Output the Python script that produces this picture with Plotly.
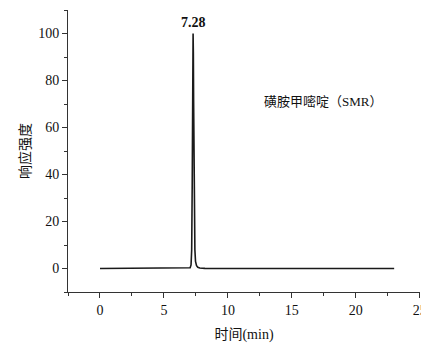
import plotly.graph_objects as go

# Chromatogram trace: retention time (min) and relative response
time_min = [0.0, 6.9, 7.05, 7.12, 7.17, 7.21, 7.24, 7.26, 7.28, 7.30, 7.32, 7.35, 7.38,
            7.42, 7.47, 7.55, 7.65, 7.8, 8.2, 9.0, 23.0]
response = [0.0, 0.0, 0.3, 1.5, 8.0, 35.0, 70.0, 92.0, 100.0, 92.0, 72.0, 42.0, 20.0,
            8.0, 3.0, 1.2, 0.5, 0.2, 0.05, 0.0, 0.0]

peak_time = 7.28
peak_height = 100.0
compound_label = "磺胺甲嘧啶（SMR）"

x_ticks = [0, 5, 10, 15, 20, 25]
y_ticks = [0, 20, 40, 60, 80, 100]

font_family = "Liberation Serif, Times New Roman, Noto Sans CJK SC, serif"
axis_color = "#333333"

fig = go.Figure()
fig.add_trace(go.Scatter(
    x=time_min, y=response, mode="lines",
    line=dict(color="#1a1a1a", width=1.6),
    hoverinfo="skip", showlegend=False,
))

fig.add_annotation(
    x=peak_time, y=peak_height, text="<b>7.28</b>", showarrow=False,
    yanchor="bottom", yshift=2, font=dict(family=font_family, size=14, color="#111111"),
)
fig.add_annotation(
    x=17.4, y=71, text=compound_label, showarrow=False,
    font=dict(family=font_family, size=13, color="#111111"),
)

fig.update_layout(
    width=421, height=348,
    margin=dict(l=68, r=1, t=10, b=56),
    paper_bgcolor="white", plot_bgcolor="white",
    font=dict(family=font_family, size=14, color="#111111"),
    xaxis=dict(
        range=[-2.5, 25.02], tickvals=x_ticks, ticks="outside", ticklen=5,
        tickcolor=axis_color, showline=True, linecolor=axis_color, linewidth=1,
        showgrid=False, zeroline=False, ticklabeloverflow="allow", automargin=False,
        minor=dict(ticks="outside", ticklen=3, dtick=2.5, tick0=0, tickcolor=axis_color, showgrid=False),
        title=dict(text="时间(min)", font=dict(size=14), standoff=12),
    ),
    yaxis=dict(
        range=[-10, 110], tickvals=y_ticks, ticks="outside", ticklen=5,
        tickcolor=axis_color, showline=True, linecolor=axis_color, linewidth=1,
        showgrid=False, zeroline=False,
        minor=dict(ticks="outside", ticklen=3, dtick=10, tick0=0, tickcolor=axis_color, showgrid=False),
        title=dict(text="响应强度", font=dict(size=14), standoff=4),
    ),
)

fig.write_html("out.html")
